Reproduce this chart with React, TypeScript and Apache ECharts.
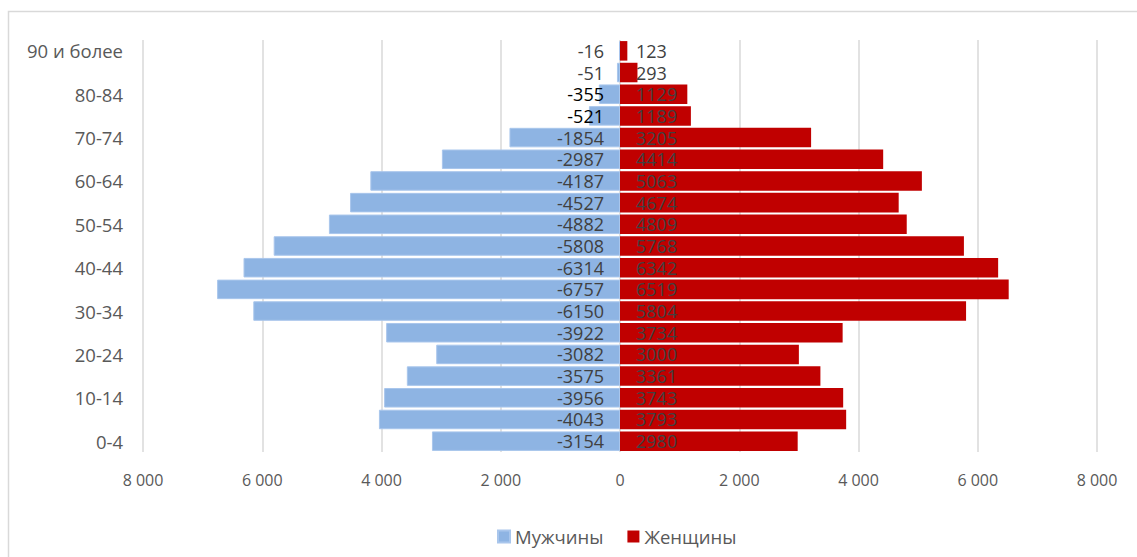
import React, { useEffect, useRef } from "react";
import * as echarts from "echarts";

const categories = [
  "0-4", "5-9", "10-14", "15-19", "20-24", "25-29", "30-34", "35-39", "40-44",
  "45-49", "50-54", "55-59", "60-64", "65-69", "70-74", "75-79", "80-84", "85-89",
  "90 и более",
];
const men = [
  -3154, -4043, -3956, -3575, -3082, -3922, -6150, -6757, -6314, -5808, -4882,
  -4527, -4187, -2987, -1854, -521, -355, -51, -16,
];
const women = [
  2980, 3793, 3743, 3361, 3000, 3734, 5804, 6519, 6342, 5768, 4809, 4674, 5063,
  4414, 3205, 1189, 1129, 293, 123,
];
const darkLabelIdx = [15, 16];
const seriesNames = ["Мужчины", "Женщины"];

const FONT = "'Open Sans', 'Noto Sans', sans-serif";

export default function App() {
  const ref = useRef<HTMLDivElement>(null);
  useEffect(() => {
    document.body.style.margin = "0";
    const chart = echarts.init(ref.current!, null, { renderer: "svg" });
    chart.setOption({
      animation: false,
      textStyle: { fontFamily: FONT },
      graphic: [
        {
          type: "rect",
          shape: { x: 8.5, y: 11.5, width: 1140, height: 560 },
          style: { fill: "none", stroke: "#d9d9d9", lineWidth: 1.5 },
          silent: true,
        },
      ],
      grid: { left: 143, right: 40, top: 40, bottom: 105, containLabel: false },
      legend: {
        data: seriesNames,
        left: 497,
        top: 527,
        padding: 0,
        itemWidth: 12,
        itemHeight: 12,
        itemGap: 24,
        icon: "rect",
        textStyle: { fontSize: 18.5, color: "#595959", fontFamily: FONT },
      },
      xAxis: {
        type: "value",
        min: -8000,
        max: 8000,
        interval: 2000,
        axisLine: { show: false },
        axisTick: { show: false },
        splitLine: { lineStyle: { color: "#d9d9d9", width: 1.5 } },
        axisLabel: {
          margin: 20,
          fontSize: 16,
          color: "#595959",
          fontFamily: FONT,
          formatter: (v: number) => {
            const a = Math.abs(v);
            if (a === 0) return "0";
            return String(a).replace(/\B(?=(\d{3})+(?!\d))/g, " ");
          },
        },
      },
      yAxis: {
        type: "category",
        data: categories,
        axisLine: { show: false },
        axisTick: { show: false },
        splitLine: { show: false },
        axisLabel: {
          interval: 1,
          margin: 20,
          fontSize: 18.5,
          color: "#595959",
          fontFamily: FONT,
        },
      },
      series: [
        {
          name: seriesNames[0],
          type: "bar",
          barGap: "-100%",
          barCategoryGap: "10%",
          data: men.map((v, i) => ({
            value: v,
            label: darkLabelIdx.includes(i) ? { color: "#000000" } : undefined,
          })),
          itemStyle: { color: "#8EB4E3", borderColor: "#a9c6ec", borderWidth: 1 },
          label: {
            show: true,
            position: "insideRight",
            distance: 16,
            fontSize: 18,
            color: "#404040",
            fontFamily: FONT,
          },
        },
        {
          name: seriesNames[1],
          type: "bar",
          barGap: "-100%",
          barCategoryGap: "10%",
          data: women,
          itemStyle: { color: "#C00000" },
          label: {
            show: true,
            position: "insideLeft",
            distance: 16,
            fontSize: 18,
            color: "#404040",
            fontFamily: FONT,
          },
        },
      ],
    });
    return () => chart.dispose();
  }, []);
  return <div ref={ref} style={{ width: 1137, height: 557 }} />;
}
